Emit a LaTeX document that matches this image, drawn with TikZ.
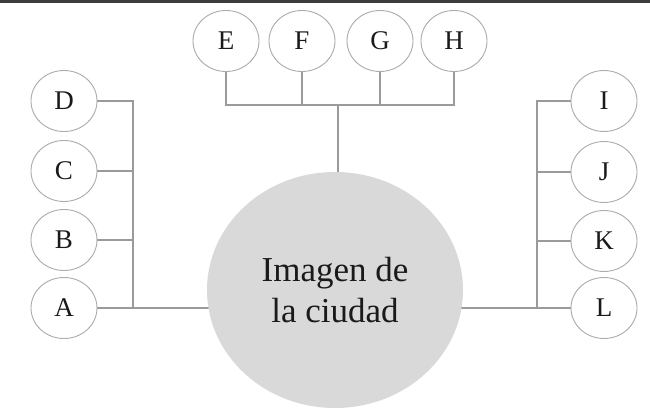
\documentclass[tikz,border=0pt]{standalone}
\usepackage{fontspec}
\setmainfont{Liberation Serif}
\usetikzlibrary{shapes.geometric,backgrounds}
\definecolor{leafgray}{HTML}{ABABAB}
\definecolor{linkgray}{HTML}{9A9A9A}
\definecolor{hubgray}{HTML}{D9D9D9}
\definecolor{rulegray}{HTML}{3C3C3C}
\definecolor{inkgray}{HTML}{1A1A1A}
\begin{document}
\begin{tikzpicture}[x=1pt,y=-1pt,
  leaf/.style={ellipse, draw=leafgray, line width=0.9pt, fill=white,
    minimum width=66pt, minimum height=61pt, inner sep=0pt,
    text=inkgray, font=\fontsize{27}{30}\selectfont},
  hub/.style={ellipse, fill=hubgray, minimum width=256pt, minimum height=236pt,
    align=center, text=inkgray, font=\fontsize{35}{41}\selectfont},
  link/.style={draw=linkgray, line width=1.2pt}]
\useasboundingbox (0,0) rectangle (650,412);
\draw[rulegray, line width=3pt] (0,1.5) -- (650,1.5);
% hub
\node[hub] (hub) at (335,290) {Imagen de\\la ciudad};
% top
\node[leaf] (E) at (226,41) {E};
\node[leaf] (F) at (302,41) {F};
\node[leaf] (G) at (380,41) {G};
\node[leaf] (H) at (454,41) {H};
% left
\node[leaf] (D) at (64,101) {D};
\node[leaf] (C) at (64,171) {C};
\node[leaf] (B) at (64,240) {B};
\node[leaf] (A) at (64,308) {A};
% right
\node[leaf] (I) at (604,101) {I};
\node[leaf] (J) at (604,172) {J};
\node[leaf] (K) at (604,241) {K};
\node[leaf] (L) at (604,308) {L};
\coordinate (tb) at (338,105);
\coordinate (lb) at (133,308);
\coordinate (rb) at (537,308);
\begin{scope}[on background layer]
  \draw[link] (E) |- (tb) -| (H);
  \draw[link] (F) -- (F |- tb);
  \draw[link] (G) -- (G |- tb);
  \draw[link] (tb) -- (tb |- hub);
  \draw[link] (D) -| (lb);
  \draw[link] (C) -- (C -| lb);
  \draw[link] (B) -- (B -| lb);
  \draw[link] (A) -- (A -| hub);
  \draw[link] (I) -| (rb);
  \draw[link] (J) -- (J -| rb);
  \draw[link] (K) -- (K -| rb);
  \draw[link] (L) -- (L -| hub);
\end{scope}
\end{tikzpicture}
\end{document}
